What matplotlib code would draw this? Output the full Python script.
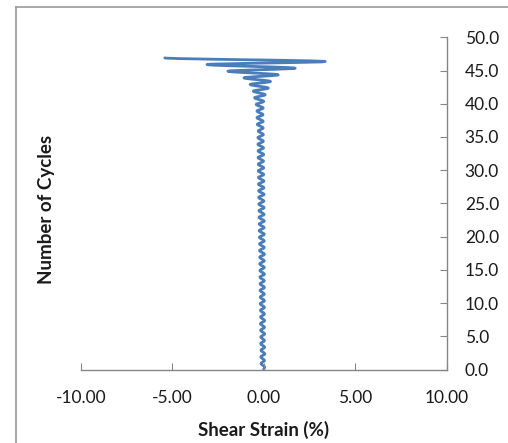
import numpy as np
import matplotlib
matplotlib.use("Agg")
import matplotlib.pyplot as plt
from matplotlib.path import Path
from matplotlib.patches import PathPatch
from matplotlib.lines import Line2D

# cycle number of each loop (one wiggle per cycle)
cycles = np.arange(0, 47)
# strain at the right-hand (positive side) peak of each cycle, %
right_peaks = [0.05, 0.04, 0.06, 0.05, 0.04, 0.05, 0.04, 0.05, 0.04, 0.04,
               0.04, 0.03, 0.04, 0.03, 0.04, 0.03, 0.03, 0.04, 0.03, 0.03,
               0.03, 0.02, 0.03, 0.02, 0.02, 0.01, 0.02, 0.01, 0.01, 0.00,
               0.00, -0.01, 0.00, -0.01, -0.02, -0.02, -0.03, -0.03, -0.04, -0.03,
               0.00, 0.08, 0.25, 0.37, 0.79, 1.72, 3.36]
# strain at the left-hand (negative side) peak of each cycle, %
left_peaks = [-0.15, -0.16, -0.15, -0.17, -0.16, -0.17, -0.18, -0.17, -0.18, -0.19,
              -0.19, -0.20, -0.20, -0.21, -0.21, -0.22, -0.22, -0.23, -0.23, -0.24,
              -0.25, -0.25, -0.26, -0.26, -0.27, -0.28, -0.28, -0.29, -0.29, -0.30,
              -0.30, -0.31, -0.31, -0.32, -0.32, -0.30, -0.35, -0.37, -0.37, -0.41,
              -0.50, -0.57, -0.74, -1.08, -1.96, -3.10, -5.41]
right_offset = 0.35   # where in the cycle the positive peak sits
left_offset = 0.90    # where in the cycle the negative peak sits

x_ticks = [-10, -5, 0, 5, 10]
y_ticks = [0, 5, 10, 15, 20, 25, 30, 35, 40, 45, 50]

line_color = "#4A7EBB"
axis_color = "#868686"
text_color = "#1a1a1a"

plt.rcParams["font.family"] = ["Lato", "DejaVu Sans"]

fig = plt.figure(figsize=(5.08, 4.43), dpi=100)
ax = fig.add_axes([0.1589, 0.1659, 0.7205, 0.7499])

# build peak sequence: start at origin, then alternate right/left peaks
pts = [(0.0, 0.0)]
for c, r, l in zip(cycles, right_peaks, left_peaks):
    pts.append((r, c + right_offset))
    pts.append((l, c + left_offset))

# smooth wave through the peaks (vertical tangent at each peak)
verts = [pts[0]]
codes = [Path.MOVETO]
for (x1, y1), (x2, y2) in zip(pts[:-1], pts[1:]):
    dy = y2 - y1
    verts += [(x1, y1 + dy / 3), (x2, y2 - dy / 3), (x2, y2)]
    codes += [Path.CURVE4] * 3
ax.add_patch(PathPatch(Path(verts, codes), facecolor="none", edgecolor=line_color,
                       lw=2.0, capstyle="round", joinstyle="round"))

ax.set_xlim(-10, 10)
ax.set_ylim(0, 50)
ax.set_xticks(x_ticks)
ax.set_xticklabels([f"{v:.2f}" for v in x_ticks])
ax.set_yticks(y_ticks)
ax.set_yticklabels([f"{v:.1f}" for v in y_ticks])

ax.yaxis.tick_right()
ax.spines["top"].set_visible(False)
ax.spines["left"].set_visible(False)
for s in ["bottom", "right"]:
    ax.spines[s].set_color(axis_color)
    ax.spines[s].set_linewidth(1.0)
ax.tick_params(axis="x", direction="in", length=5, color=axis_color, pad=15,
               labelsize=12.5, labelcolor=text_color)
ax.tick_params(axis="y", direction="in", length=5, color=axis_color, pad=13,
               labelsize=12.5, labelcolor=text_color)

fig.text(264 / 508, 1 - 430 / 443, "Shear Strain (%)", ha="center", va="center",
         fontsize=13.5, fontweight="bold", color=text_color)
fig.text(47 / 508, 1 - 209 / 443, "Number of Cycles", ha="center", va="center",
         rotation=90, fontsize=13.5, fontweight="bold", color=text_color)

# chart-area border (only left and top edges are inside the crop)
fig.add_artist(Line2D([15.7 / 508, 15.7 / 508], [0, 1 - 6.5 / 443],
                      transform=fig.transFigure, color="#9a9a9a", lw=1.2))
fig.add_artist(Line2D([15.7 / 508, 1], [1 - 6.5 / 443, 1 - 6.5 / 443],
                      transform=fig.transFigure, color="#9a9a9a", lw=1.2))

fig.savefig("out.png", dpi=100)
